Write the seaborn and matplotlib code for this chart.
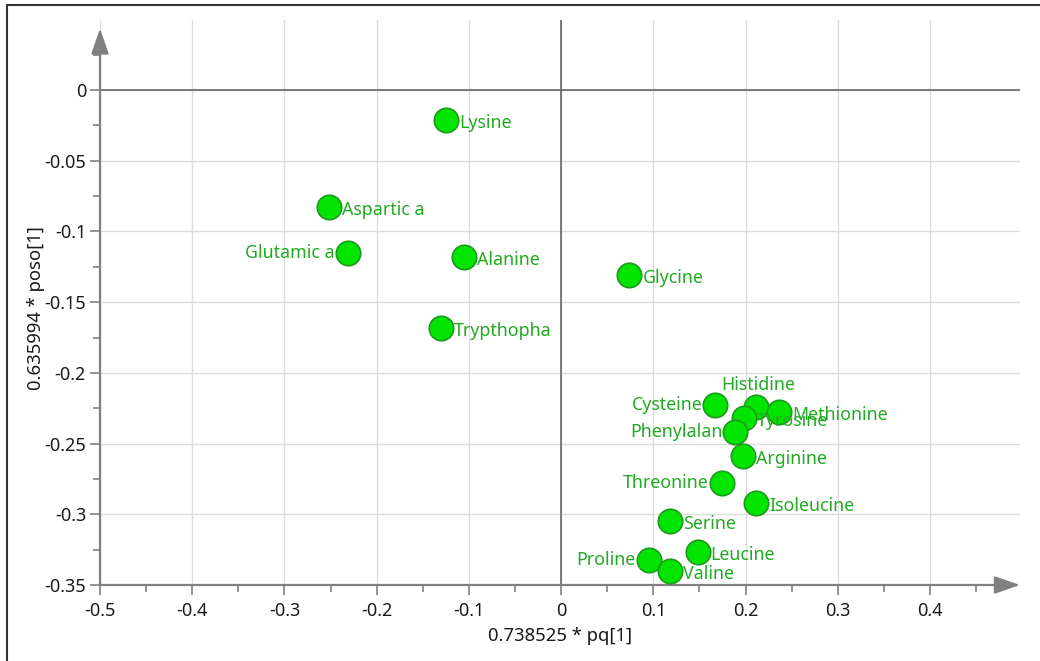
import matplotlib
matplotlib.use('Agg')
import matplotlib.pyplot as plt
from matplotlib.lines import Line2D
from matplotlib.ticker import MultipleLocator
import numpy as np
import pandas as pd
import seaborn as sns

# amino acid loadings
names = ['Lysine', 'Aspartic a', 'Glutamic a', 'Alanine', 'Glycine', 'Trypthopha',
         'Histidine', 'Cysteine', 'Methionine', 'Tyrosine', 'Phenylalan', 'Arginine',
         'Threonine', 'Isoleucine', 'Serine', 'Leucine', 'Proline', 'Valine']
pq = [-0.125, -0.252, -0.231, -0.105, 0.074, -0.130,
      0.211, 0.167, 0.236, 0.198, 0.189, 0.197,
      0.174, 0.211, 0.118, 0.148, 0.095, 0.118]
poso = [-0.021, -0.083, -0.115, -0.118, -0.131, -0.168,
        -0.224, -0.223, -0.228, -0.232, -0.242, -0.259,
        -0.278, -0.292, -0.305, -0.327, -0.332, -0.340]
# label side: r = right, l = left, t = above
sides = ['r', 'r', 'l', 'r', 'r', 'r',
         't', 'l', 'r', 'r', 'l', 'r',
         'l', 'r', 'r', 'r', 'l', 'r']

df = pd.DataFrame({'name': names, 'pq': pq, 'poso': poso, 'side': sides})

sns.set_style('white')
plt.rcParams['font.family'] = ['Noto Sans', 'DejaVu Sans']
plt.rcParams['font.size'] = 12

fig = plt.figure(figsize=(10.4, 6.61), dpi=100)
ax = fig.add_axes([100 / 1040, 1 - 585 / 661, 920 / 1040, (585 - 20) / 661])

xmin, xmax = -0.5, 0.4975
ymin, ymax = -0.35, 0.0495
ax.set_xlim(xmin, xmax)
ax.set_ylim(ymin, ymax)

ax.xaxis.set_minor_locator(MultipleLocator(0.05))
ax.yaxis.set_minor_locator(MultipleLocator(0.025))
ax.set_xticks(np.round(np.arange(-0.5, 0.41, 0.1), 2))
ax.set_yticks(np.round(np.arange(-0.35, 0.01, 0.05), 2))
ax.set_xticklabels(['-0.5', '-0.4', '-0.3', '-0.2', '-0.1', '0', '0.1', '0.2', '0.3', '0.4'])
ax.set_yticklabels(['-0.35', '-0.3', '-0.25', '-0.2', '-0.15', '-0.1', '-0.05', '0'])
ax.grid(True, which='major', color='#dcdcdc', linewidth=1)
ax.set_axisbelow(True)
ax.tick_params(axis='both', which='major', direction='out', length=7, width=1.2,
               color='#808080', labelsize=13, pad=5, labelcolor='#1a1a1a')
ax.tick_params(axis='y', which='major', pad=3)
ax.tick_params(axis='both', which='minor', direction='out', length=5, width=1.2, color='#808080')
ax.tick_params(axis='x', which='both', bottom=True)
ax.tick_params(axis='y', which='both', left=True)
for s in ax.spines.values():
    s.set_visible(False)

# zero lines
ax.axhline(0, color='#666666', linewidth=1.2, zorder=1)
ax.axvline(0, color='#666666', linewidth=1.2, zorder=1)

# axis lines with arrows
ax.annotate('', xy=(1.0, 0), xytext=(0, 0), xycoords='axes fraction',
            arrowprops=dict(arrowstyle='-|>,head_length=1.3,head_width=0.45',
                            color='#808080', lw=1.6, shrinkA=0, shrinkB=0))
ax.annotate('', xy=(0, 0.985), xytext=(0, 0), xycoords='axes fraction',
            arrowprops=dict(arrowstyle='-|>,head_length=1.3,head_width=0.45',
                            color='#808080', lw=1.6, shrinkA=0, shrinkB=0))

sns.scatterplot(data=df, x='pq', y='poso', ax=ax, s=310, color='#00e400',
                edgecolor='#1f9a1f', linewidth=1.2, zorder=3, legend=False)

text_color = '#22aa22'
for _, row in df.iterrows():
    if row['side'] == 'r':
        off, ha, va = (13, -3), 'left', 'center'
    elif row['side'] == 'l':
        off, ha, va = (-13, 0), 'right', 'center'
    else:
        off, ha, va = (2, 22), 'center', 'center'
    ax.annotate(row['name'], (row['pq'], row['poso']), xytext=off,
                textcoords='offset pixels', ha=ha, va=va, fontsize=12.8,
                color=text_color, zorder=4)

ax.set_xlabel('0.738525 * pq[1]', fontsize=13.3, color='#1a1a1a', labelpad=5)
ax.set_ylabel('0.635994 * poso[1]', fontsize=13.3, color='#1a1a1a')
ax.yaxis.set_label_coords(-(100 - 45) / 920, 0.49)

# outer frame (left and top edges)
fig.add_artist(Line2D([7 / 1040, 7 / 1040], [0, 1 - 5 / 661], color='#333333', lw=1.5))
fig.add_artist(Line2D([7 / 1040, 1], [1 - 5 / 661, 1 - 5 / 661], color='#333333', lw=1.5))

fig.savefig('out.png', dpi=100)
